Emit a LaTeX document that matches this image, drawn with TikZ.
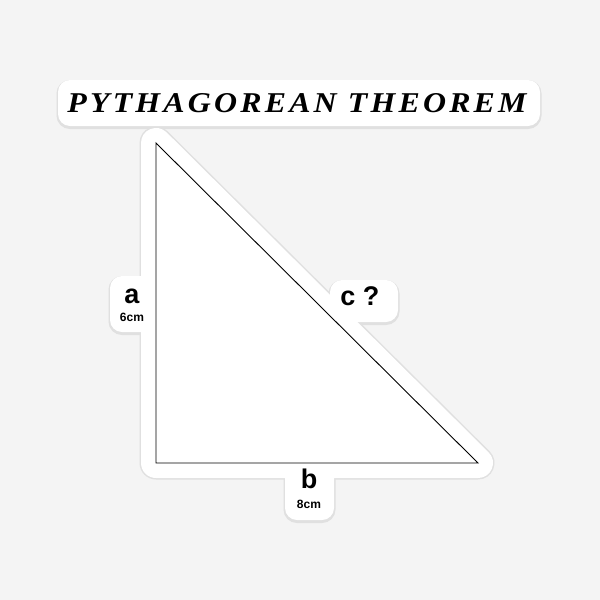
\documentclass[tikz,border=0pt]{standalone}
\usepackage{fontspec}
\setmainfont{Liberation Serif}
\newfontfamily\labfont{Liberation Sans}
\definecolor{bgc}{HTML}{F4F4F4}
\definecolor{shc}{HTML}{E0E0E0}
\begin{document}
\begin{tikzpicture}[x=1pt,y=-1pt,
  big/.style={font=\labfont\bfseries\fontsize{27}{27}\selectfont, inner sep=0pt},
  small/.style={font=\labfont\bfseries\fontsize{12}{12}\selectfont, inner sep=0pt},
  sticker/.style={fill=white},
  shadow/.style={fill=shc, draw=shc}]
\fill[bgc] (0,0) rectangle (600,600);
\useasboundingbox (0,0) rectangle (600,600);
\coordinate (A) at (156,143);
\coordinate (B) at (156,463);
\coordinate (C) at (478,463);
% shadow layer
\begin{scope}[shift={(0,1.5)}]
  \filldraw[shadow, line width=33pt, line join=round] (A) -- (B) -- (C) -- cycle;
  \filldraw[shadow, line width=3pt, rounded corners=12pt] (58,80) rectangle (540,126);
  \filldraw[shadow, line width=3pt, rounded corners=12pt] (110,276) rectangle (160,332);
  \filldraw[shadow, line width=3pt, rounded corners=12pt] (330,280) rectangle (398,322);
  \filldraw[shadow, line width=3pt, rounded corners=12pt] (285,465) rectangle (334,520);
\end{scope}
% white sticker layer
\filldraw[fill=white, draw=white, line width=30pt, line join=round] (A) -- (B) -- (C) -- cycle;
\fill[sticker, rounded corners=12pt] (58,80) rectangle (540,126);
\fill[sticker, rounded corners=12pt] (110,276) rectangle (160,332);
\fill[sticker, rounded corners=12pt] (330,280) rectangle (398,322);
\fill[sticker, rounded corners=12pt] (285,465) rectangle (334,520);
% triangle
\draw[black, line width=0.9pt] (A) -- (B) -- (C) -- cycle;
% title
\node[inner sep=0pt] (title) at (297,103) {\resizebox{459pt}{19pt}{\bfseries\itshape\addfontfeature{LetterSpace=10}PYTHAGOREAN THEOREM}};
% labels
\node[big] (la) at (132,296) {a};
\node[small] (la2) at (132,317) {6cm};
\node[big] (lc) at (360,296) {c ?};
\node[big] (lb) at (309,479) {b};
\node[small] (lb2) at (309,504) {8cm};
\end{tikzpicture}
\end{document}
